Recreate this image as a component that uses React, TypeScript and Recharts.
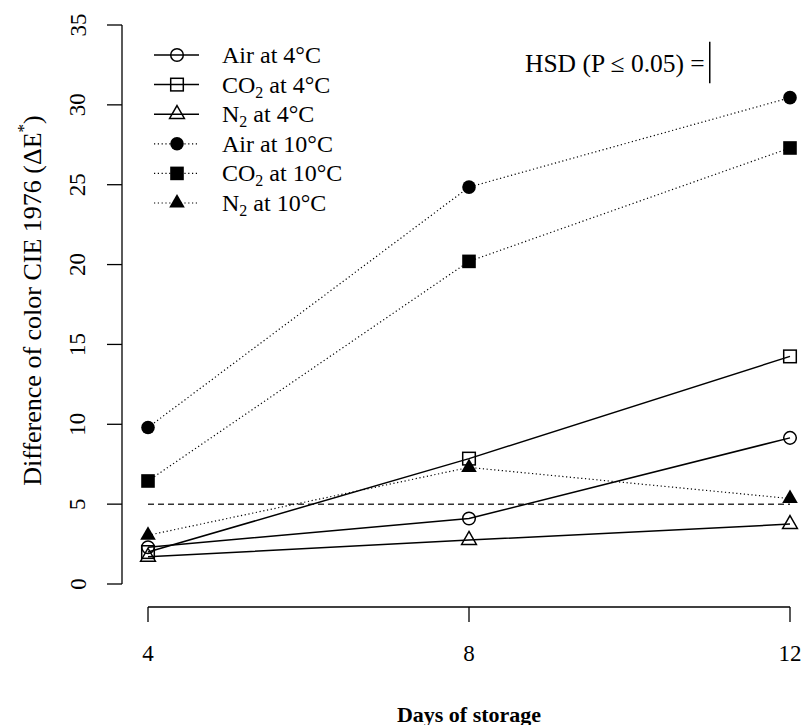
import { LineChart, Line, XAxis, YAxis, ReferenceLine, Legend } from 'recharts'

const FONT = '"Liberation Serif", "DejaVu Serif", "Times New Roman", serif'

// days of storage (x) and ΔE* readings per treatment
const days = [4, 8, 12]
const air4 = [2.3, 4.1, 9.15]
const co2At4 = [2.0, 7.85, 14.25]
const n2At4 = [1.7, 2.75, 3.75]
const air10 = [9.8, 24.85, 30.45]
const co2At10 = [6.45, 20.2, 27.3]
const n2At10 = [3.05, 7.3, 5.35]

const xTicks = [4, 8, 12]
const yTicks = [0, 5, 10, 15, 20, 25, 30, 35]
const thresholdLine = 5
const hsdDay = 11
const hsdBar = [31.35, 33.95]

type Shape = 'circle-open' | 'square-open' | 'triangle-open' | 'circle' | 'square' | 'triangle'

interface Series {
  key: string
  gas: string
  sub?: string
  temp: string
  shape: Shape
  dotted: boolean
}

const SERIES: Series[] = [
  { key: 'air4', gas: 'Air', temp: ' at 4°C', shape: 'circle-open', dotted: false },
  { key: 'co2At4', gas: 'CO', sub: '2', temp: ' at 4°C', shape: 'square-open', dotted: false },
  { key: 'n2At4', gas: 'N', sub: '2', temp: ' at 4°C', shape: 'triangle-open', dotted: false },
  { key: 'air10', gas: 'Air', temp: ' at 10°C', shape: 'circle', dotted: true },
  { key: 'co2At10', gas: 'CO', sub: '2', temp: ' at 10°C', shape: 'square', dotted: true },
  { key: 'n2At10', gas: 'N', sub: '2', temp: ' at 10°C', shape: 'triangle', dotted: true },
]

const data = days.map((day, i) => ({
  day,
  air4: air4[i],
  co2At4: co2At4[i],
  n2At4: n2At4[i],
  air10: air10[i],
  co2At10: co2At10[i],
  n2At10: n2At10[i],
}))

function Marker({ cx, cy, shape }: { cx?: number; cy?: number; shape: Shape }) {
  if (cx == null || cy == null) return null
  const open = { fill: 'none', stroke: '#000', strokeWidth: 1.5 }
  switch (shape) {
    case 'circle-open':
      return <circle cx={cx} cy={cy} r={6.3} {...open} />
    case 'square-open':
      return <rect x={cx - 6.3} y={cy - 6.3} width={12.6} height={12.6} {...open} />
    case 'triangle-open':
      return <polygon points={`${cx},${cy - 8.6} ${cx + 7.4},${cy + 4.3} ${cx - 7.4},${cy + 4.3}`} {...open} />
    case 'circle':
      return <circle cx={cx} cy={cy} r={6.8} fill="#000" />
    case 'square':
      return <rect x={cx - 6.8} y={cy - 6.8} width={13.6} height={13.6} fill="#000" />
    case 'triangle':
      return <polygon points={`${cx},${cy - 9} ${cx + 7.8},${cy + 4.5} ${cx - 7.8},${cy + 4.5}`} fill="#000" />
  }
}

const DOTTED = '1.2 2.6'

function LegendBox() {
  return (
    <svg width={300} height={200} style={{ overflow: 'visible' }}>
      {SERIES.map((s, i) => {
        const y = 25 + i * 29.6
        return (
          <g key={s.key}>
            <line x1={14} x2={59} y1={y} y2={y} stroke="#000" strokeWidth={s.dotted ? 1.2 : 1.5}
              strokeDasharray={s.dotted ? DOTTED : undefined} />
            <Marker cx={37} cy={y} shape={s.shape} />
            <text x={82} y={y + 8} fontFamily={FONT} fontSize={24} fill="#000">
              <tspan>{s.gas}</tspan>
              {s.sub && <tspan dy={5} fontSize={16}>{s.sub}</tspan>}
              <tspan dy={s.sub ? -5 : 0}>{s.temp}</tspan>
            </text>
          </g>
        )
      })}
    </svg>
  )
}

// tick labels sit outside the shifted axis group, so offset them here
function YTick({ x, y, payload }: any) {
  const tx = x - 55
  return (
    <text x={tx} y={y} transform={`rotate(-90, ${tx}, ${y})`} textAnchor="middle"
      dominantBaseline="central" fontFamily={FONT} fontSize={23} fill="#000">
      {payload.value}
    </text>
  )
}

function XTick({ x, y, payload }: any) {
  return (
    <text x={x} y={y + 54} textAnchor="middle" dominantBaseline="central"
      fontFamily={FONT} fontSize={23} fill="#000">
      {payload.value}
    </text>
  )
}

export default function App() {
  return (
    <div style={{ position: 'absolute', left: 0, top: 0, width: 804, height: 725, background: '#fff' }}>
      <style>{`
        .recharts-yAxis { transform: translateX(-26px); }
        .recharts-xAxis { transform: translateY(23px); }
      `}</style>
      <LineChart width={804} height={725} data={data} margin={{ top: 25, right: 14, bottom: 0, left: 0 }}>
        <XAxis
          dataKey="day"
          type="number"
          domain={[4, 12]}
          ticks={xTicks}
          height={141}
          tickSize={15}
          tickMargin={0}
          tick={<XTick />}
          stroke="#000"
          strokeWidth={1.3}
          label={(p: any) => (
            <text x={p.viewBox.x + p.viewBox.width / 2} y={714 - 23} textAnchor="middle"
              dominantBaseline="central" fontFamily={FONT} fontSize={22} fontWeight="bold" fill="#000">
              Days of storage
            </text>
          )}
        />
        <YAxis
          type="number"
          domain={[0, 35]}
          ticks={yTicks}
          width={148}
          tickSize={15}
          tickMargin={0}
          tick={<YTick />}
          stroke="#000"
          strokeWidth={1.3}
          label={(p: any) => {
            const cx = 32 + 26
            const cy = p.viewBox.y + p.viewBox.height / 2 - 4
            return (
              <text x={cx} y={cy} transform={`rotate(-90, ${cx}, ${cy})`} textAnchor="middle"
                dominantBaseline="central" fontFamily={FONT} fontSize={26} fill="#000">
                Difference of color CIE 1976 (ΔE
                <tspan dy={-9} fontSize={17}>*</tspan>
                <tspan dy={9}>)</tspan>
              </text>
            )
          }}
        />
        <ReferenceLine y={thresholdLine} stroke="#333" strokeWidth={1.5} strokeDasharray="6 4" />
        <ReferenceLine
          segment={[{ x: hsdDay, y: hsdBar[0] }, { x: hsdDay, y: hsdBar[1] }]}
          stroke="#000"
          strokeWidth={1.5}
          label={{ value: 'HSD (P ≤ 0.05) =', position: 'left', offset: 5, fontSize: 25.5, fill: '#000', fontFamily: FONT }}
        />
        {SERIES.map(s => (
          <Line
            key={s.key}
            dataKey={s.key}
            type="linear"
            stroke="#000"
            strokeWidth={s.dotted ? 1.2 : 1.5}
            strokeDasharray={s.dotted ? DOTTED : undefined}
            isAnimationActive={false}
            dot={(p: any) => <Marker key={`${s.key}-${p.index}`} cx={p.cx} cy={p.cy} shape={s.shape} />}
            activeDot={false}
          />
        ))}
        <Legend
          content={() => <LegendBox />}
          layout="horizontal"
          verticalAlign="middle"
          align="center"
          wrapperStyle={{ left: 140, top: 30, width: 300, height: 200 }}
        />
      </LineChart>
    </div>
  )
}
